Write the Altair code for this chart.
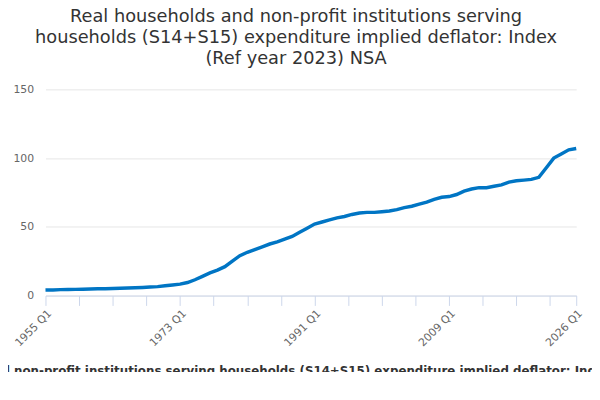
import altair as alt
import pandas as pd

years = list(range(1955, 2027))
values = [4.0, 4.1, 4.3, 4.4, 4.5, 4.6, 4.7, 4.9, 5.0, 5.1, 5.3, 5.5, 5.7, 5.9, 6.2, 6.5,
          7.1, 7.7, 8.3, 9.5, 11.5, 14.0, 16.5, 18.5, 21.0, 25.0, 29.0, 31.5, 33.5, 35.5,
          37.5, 39.0, 41.0, 43.0, 46.0, 49.0, 52.0, 53.5, 55.0, 56.5, 57.5, 59.0, 60.0,
          60.5, 60.5, 61.0, 61.5, 62.5, 64.0, 65.0, 66.5, 68.0, 70.0, 71.5, 72.0, 73.5,
          76.0, 77.5, 78.5, 78.5, 79.5, 80.5, 82.5, 83.5, 84.0, 84.5, 86.0, 93.0, 100.0,
          103.0, 106.0, 107.0]
label_years = [1955, 1973, 1991, 2009, 2026]
tick_years = [1955 + 4.5 * k for k in range(16)] + [2026]

df = pd.DataFrame({"year": years, "value": values})

title_text = ["Real households and non-profit institutions serving",
              "households (S14+S15) expenditure implied deflator: Index",
              "(Ref year 2023) NSA"]
axis_title = ("Real households and non-profit institutions serving households (S14+S15) "
              "expenditure implied deflator: Index (Ref year 2023) NSA")

line = alt.Chart(df).mark_line(color="#0075c4", strokeWidth=3.5).encode(
    x=alt.X("year:Q", scale=alt.Scale(domain=[1955, 2026], nice=False, zero=False),
            axis=alt.Axis(values=tick_years, labelAngle=-45, labelAlign="right",
                          labelBaseline="top",
                          labelExpr="indexof([1955,1973,1991,2009,2026], datum.value) >= 0 ? datum.value + ' Q1' : ''",
                          grid=False, domainColor="#ccd6eb", tickColor="#ccd6eb", tickSize=10,
                          labelColor="#666666", labelFontSize=11, labelOverlap=False,
                          title=axis_title, titleFontSize=12, titleFontWeight="bold",
                          titleColor="#333333", titleLimit=2000, titlePadding=18)),
    y=alt.Y("value:Q", scale=alt.Scale(domain=[0, 150]),
            axis=alt.Axis(values=[0, 50, 100, 150], domain=False, ticks=False,
                          gridColor="#e6e6e6", labelColor="#666666", labelFontSize=11,
                          labelPadding=12, title=None)),
)

source = alt.Chart(pd.DataFrame({"t": ["Source: Office for National Statistics"]})).mark_text(
    align="left", baseline="middle", fontSize=12, color="#666666").encode(
    x=alt.value(499), y=alt.value(302), text="t:N"
)

chart = alt.layer(line, source).properties(
    width=538, height=209,
    title=alt.TitleParams(title_text, fontSize=18, fontWeight="normal", color="#333333",
                          anchor="middle", lineHeight=21, offset=16, frame="group", dx=-15),
    padding={"left": 38, "top": 80, "right": 16, "bottom": 75},
    autosize=alt.AutoSizeParams(type="none"),
).configure(font="DejaVu Sans").configure_view(stroke=None)

chart.save("out.html", embed_options={"renderer": "svg", "actions": False})
